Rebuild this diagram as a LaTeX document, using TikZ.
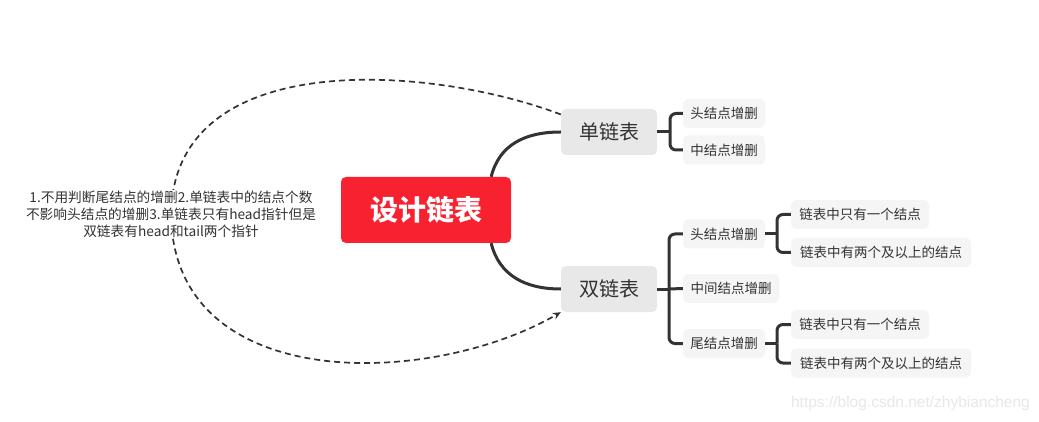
\documentclass[tikz,border=0pt]{standalone}
\usepackage{fontspec}
\setmainfont{Noto Sans CJK SC}
\newfontfamily\wmfont{Liberation Sans}
\usetikzlibrary{arrows.meta}
\definecolor{rootred}{RGB}{247,33,48}
\definecolor{maingray}{RGB}{232,232,232}
\definecolor{leafgray}{RGB}{245,245,245}
\definecolor{txt}{RGB}{51,51,51}
\definecolor{wm}{RGB}{232,232,232}
\begin{document}
\begin{tikzpicture}[x=1pt,y=-1pt,
 rootbox/.style={fill=rootred, rounded corners=5pt, text=white, font=\fontsize{28}{30}\selectfont\bfseries, minimum width=170pt, minimum height=66pt, inner sep=0pt},
 mainbox/.style={fill=maingray, rounded corners=5pt, text=txt, font=\fontsize{20}{22}\selectfont, minimum width=96pt, minimum height=46pt, inner sep=0pt},
 leafbox/.style={fill=leafgray, rounded corners=5pt, text=txt, font=\fontsize{13.5}{15}\selectfont, minimum height=29pt, inner sep=0pt},
 conn/.style={draw=txt, line width=3pt},
 br/.style={draw=txt, line width=3pt, rounded corners=6pt},
 rel/.style={draw=txt, line width=1.7pt, dash pattern=on 6pt off 4pt, -{Stealth[length=8pt,width=7pt]}},
 notebox/.style={fill=white, text=txt, align=center, font=\fontsize{13.7}{17}\selectfont, inner sep=1pt},
]
\useasboundingbox[fill=white] (0,0) rectangle (1039,422);

% nodes
\node[rootbox] (root) at (426,210) {设计链表};
\node[mainbox] (s) at (609,132) {单链表};
\node[mainbox] (d) at (609,289) {双链表};

\node[leafbox, minimum width=82pt] (s1) at (724,113.5) {头结点增删};
\node[leafbox, minimum width=82pt] (s2) at (724,150) {中结点增删};

\node[leafbox, minimum width=82pt] (d1) at (724,234) {头结点增删};
\node[leafbox, minimum width=96pt] (d2) at (731,288.5) {中间结点增删};
\node[leafbox, minimum width=82pt] (d3) at (724,343.5) {尾结点增删};

\node[leafbox, minimum width=138pt] (g1) at (860,214.5) {链表中只有一个结点};
\node[leafbox, minimum width=180pt] (g2) at (881,252.5) {链表中有两个及以上的结点};
\node[leafbox, minimum width=138pt] (g3) at (860,324.5) {链表中只有一个结点};
\node[leafbox, minimum width=180pt] (g4) at (881,363) {链表中有两个及以上的结点};

% root to main branches
\draw[conn] (root.27) .. controls +(8,-32) and +(-36,0) .. (s.west);
\draw[conn] (root.-27) .. controls +(8,32) and +(-36,0) .. (d.west);

% brackets
\coordinate (sj) at (670,132);
\draw[conn] (s.east) -- (sj);
\draw[br] (sj) |- (s1.west);
\draw[br] (sj) |- (s2.west);

\coordinate (dj) at (669,289);
\draw[conn] (d.east) -- (dj);
\draw[br] (dj) |- (d1.west);
\draw[conn] (dj) -- (d2.west);
\draw[br] (dj) |- (d3.west);

\coordinate (g1j) at (777,234);
\draw[conn] (d1.east) -- (g1j);
\draw[br] (g1j) |- (g1.west);
\draw[br] (g1j) |- (g2.west);

\coordinate (g3j) at (777,343.5);
\draw[conn] (d3.east) -- (g3j);
\draw[br] (g3j) |- (g3.west);
\draw[br] (g3j) |- (g4.west);

% relationship curve with note
\coordinate (m) at (171,214);
\draw[rel] (s.160) .. controls (430,65) and (174,46) .. (m)
  .. controls (173,395) and (430,388) .. (d.south west);
\node[notebox] (note) at (m) {1.不用判断尾结点的增删2.单链表中的结点个数\\不影响头结点的增删3.单链表只有head指针但是\\双链表有head和tail两个指针};

% watermark
\node[text=wm, font=\wmfont\fontsize{15.5}{17}\selectfont, anchor=east, inner sep=0pt] (wmk) at (1030,403) {https://blog.csdn.net/zhybiancheng};
\end{tikzpicture}
\end{document}
